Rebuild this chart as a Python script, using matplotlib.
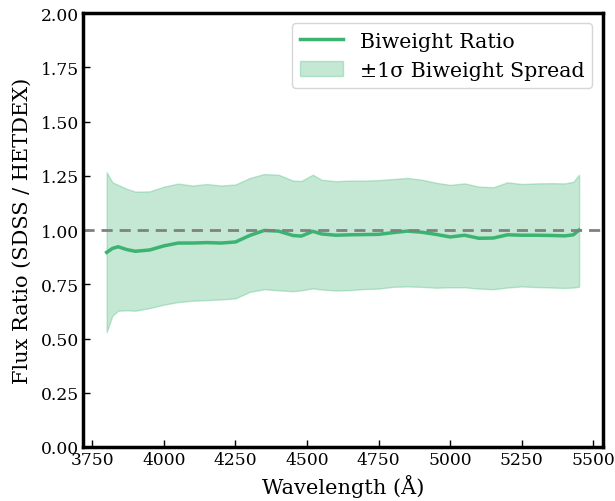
import matplotlib
matplotlib.use("Agg")
import matplotlib.pyplot as plt
import numpy as np

plt.rcParams["font.family"] = "DejaVu Serif"

wavelength = [3800, 3820, 3840, 3870, 3900, 3950, 4000, 4050, 4100, 4150, 4200,
              4250, 4300, 4350, 4400, 4450, 4480, 4520, 4550, 4600, 4650, 4700,
              4750, 4800, 4850, 4900, 4950, 5000, 5050, 5100, 5150, 5200, 5250,
              5300, 5350, 5400, 5430, 5450]

ratio = [0.897, 0.915, 0.923, 0.910, 0.902, 0.908, 0.927, 0.940, 0.940, 0.942, 0.940,
         0.945, 0.975, 0.998, 0.995, 0.975, 0.972, 0.994, 0.982, 0.976, 0.978, 0.979,
         0.980, 0.988, 0.995, 0.990, 0.980, 0.968, 0.976, 0.962, 0.963, 0.978, 0.976,
         0.976, 0.975, 0.973, 0.978, 1.000]

upper = [1.266, 1.220, 1.208, 1.190, 1.177, 1.178, 1.200, 1.214, 1.205, 1.212, 1.205,
         1.210, 1.240, 1.258, 1.255, 1.228, 1.226, 1.255, 1.232, 1.225, 1.228, 1.228,
         1.230, 1.235, 1.240, 1.232, 1.218, 1.208, 1.215, 1.200, 1.197, 1.220, 1.212,
         1.215, 1.216, 1.215, 1.222, 1.255]

lower = [0.529, 0.605, 0.628, 0.630, 0.628, 0.640, 0.656, 0.668, 0.674, 0.677, 0.680,
         0.685, 0.715, 0.727, 0.722, 0.718, 0.722, 0.731, 0.726, 0.721, 0.723, 0.728,
         0.730, 0.738, 0.740, 0.738, 0.734, 0.736, 0.736, 0.730, 0.727, 0.735, 0.740,
         0.737, 0.735, 0.733, 0.735, 0.739]

color = "mediumseagreen"

fig, ax = plt.subplots(figsize=(6.15, 5.02), dpi=100)
fig.subplots_adjust(left=0.135, right=0.980, bottom=0.1076, top=0.972)

ax.fill_between(wavelength, lower, upper, color=color, alpha=0.3,
                label="±1σ Biweight Spread")
ax.plot(wavelength, ratio, color=color, lw=2.5, label="Biweight Ratio")
ax.axhline(1.0, color="gray", ls="--", lw=2, dashes=(4, 2.5))

ax.set_ylim(0, 2.0)
ax.set_yticks(np.arange(0, 2.01, 0.25))
ax.set_xticks(np.arange(3750, 5501, 250))
ax.set_xlabel("Wavelength (Å)", fontsize=15)
ax.set_ylabel("Flux Ratio (SDSS / HETDEX)", fontsize=15, labelpad=6)
ax.tick_params(direction="in", labelsize=12.3, length=5, width=1, pad=3)
for s in ax.spines.values():
    s.set_linewidth(2.5)

handles, labels = ax.get_legend_handles_labels()
ax.legend(handles[::-1], labels[::-1], fontsize=14.8, loc="upper right",
          handlelength=2.1)

fig.savefig("out.png", dpi=100)
